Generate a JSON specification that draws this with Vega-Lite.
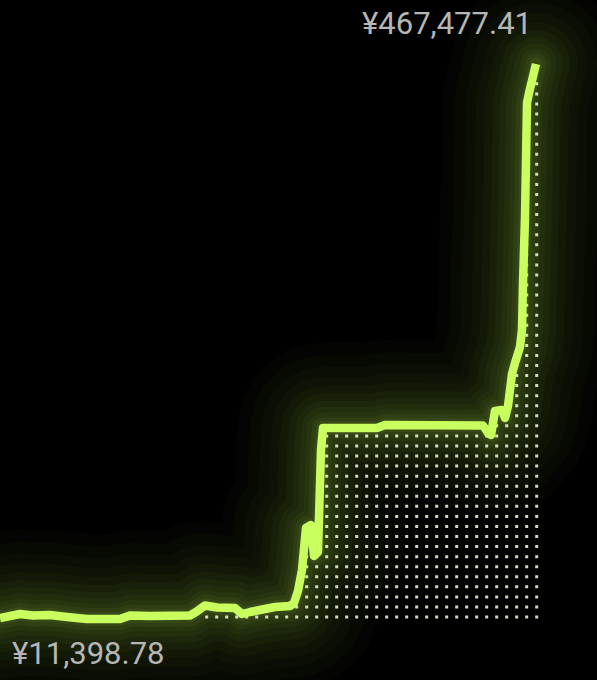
{
  "$schema": "https://vega.github.io/schema/vega-lite/v6.json",
  "background": "#000000",
  "width": 597,
  "height": 680,
  "padding": 0,
  "autosize": {"type": "none"},
  "datasets": {
    "series": [
      {"t": 0, "v": 12221},
      {"t": 20, "v": 15508},
      {"t": 33, "v": 14275},
      {"t": 50, "v": 14686},
      {"t": 67, "v": 13042},
      {"t": 87, "v": 11399},
      {"t": 120, "v": 11399},
      {"t": 130, "v": 14275},
      {"t": 150, "v": 13864},
      {"t": 190, "v": 14275},
      {"t": 196, "v": 17151},
      {"t": 205, "v": 22493},
      {"t": 217, "v": 20849},
      {"t": 235, "v": 20438},
      {"t": 242, "v": 15508},
      {"t": 250, "v": 17151},
      {"t": 260, "v": 18795},
      {"t": 275, "v": 21260},
      {"t": 290, "v": 22082},
      {"t": 294, "v": 24547},
      {"t": 298, "v": 34408},
      {"t": 302, "v": 51665},
      {"t": 306, "v": 86179},
      {"t": 311, "v": 88644},
      {"t": 314, "v": 63170},
      {"t": 318, "v": 66457},
      {"t": 321, "v": 150276},
      {"t": 323, "v": 168355},
      {"t": 377, "v": 168355},
      {"t": 385, "v": 170820},
      {"t": 483, "v": 170409},
      {"t": 488, "v": 164246},
      {"t": 491, "v": 162603},
      {"t": 495, "v": 182325},
      {"t": 502, "v": 183147},
      {"t": 505, "v": 176573},
      {"t": 508, "v": 186434},
      {"t": 512, "v": 212730},
      {"t": 515, "v": 221769},
      {"t": 520, "v": 234917},
      {"t": 522, "v": 248887},
      {"t": 523, "v": 287510},
      {"t": 525, "v": 341746},
      {"t": 527, "v": 435427},
      {"t": 529, "v": 443645},
      {"t": 536, "v": 467477}
    ],
    "dots": [
      {"t": 206.7, "base": 11810, "top": 22082},
      {"t": 216.7, "base": 11810, "top": 21260},
      {"t": 226.7, "base": 11810, "top": 20438},
      {"t": 236.7, "base": 11810, "top": 19616},
      {"t": 246.7, "base": 11810, "top": 16329},
      {"t": 256.7, "base": 11810, "top": 17973},
      {"t": 266.7, "base": 11810, "top": 19616},
      {"t": 276.7, "base": 11810, "top": 21260},
      {"t": 286.7, "base": 11810, "top": 21260},
      {"t": 296.7, "base": 11810, "top": 32765},
      {"t": 306.7, "base": 11810, "top": 87001},
      {"t": 316.7, "base": 11810, "top": 66457},
      {"t": 326.7, "base": 11810, "top": 168355},
      {"t": 336.7, "base": 11810, "top": 168355},
      {"t": 346.7, "base": 11810, "top": 168355},
      {"t": 356.7, "base": 11810, "top": 168355},
      {"t": 366.7, "base": 11810, "top": 168355},
      {"t": 376.7, "base": 11810, "top": 168355},
      {"t": 386.7, "base": 11810, "top": 170820},
      {"t": 396.7, "base": 11810, "top": 170820},
      {"t": 406.7, "base": 11810, "top": 170820},
      {"t": 416.7, "base": 11810, "top": 170820},
      {"t": 426.7, "base": 11810, "top": 170820},
      {"t": 436.7, "base": 11810, "top": 170820},
      {"t": 446.7, "base": 11810, "top": 170820},
      {"t": 456.7, "base": 11810, "top": 170820},
      {"t": 466.7, "base": 11810, "top": 170820},
      {"t": 476.7, "base": 11810, "top": 170820},
      {"t": 486.7, "base": 11810, "top": 165890},
      {"t": 496.7, "base": 11810, "top": 183147},
      {"t": 506.7, "base": 11810, "top": 181503},
      {"t": 516.7, "base": 11810, "top": 225878},
      {"t": 526.7, "base": 11810, "top": 435427},
      {"t": 536.7, "base": 11810, "top": 454328}
    ]
  },
  "layer": [
    {
      "data": {"name": "series"},
      "mark": {"type": "line", "color": "#c8ff5e", "strokeWidth": 170, "opacity": 0.018, "strokeJoin": "round", "strokeCap": "round"},
      "encoding": {
        "x": {"field": "t", "type": "quantitative", "axis": null, "scale": {"domain": [0, 597], "nice": false, "zero": false}},
        "y": {"field": "v", "type": "quantitative", "axis": null, "scale": {"domain": [-38729, 520068], "nice": false, "zero": false}}
      }
    },
    {
      "data": {"name": "series"},
      "mark": {"type": "line", "color": "#c8ff5e", "strokeWidth": 145, "opacity": 0.02, "strokeJoin": "round", "strokeCap": "round"},
      "encoding": {"x": {"field": "t", "type": "quantitative"}, "y": {"field": "v", "type": "quantitative"}}
    },
    {
      "data": {"name": "series"},
      "mark": {"type": "line", "color": "#c8ff5e", "strokeWidth": 122, "opacity": 0.022, "strokeJoin": "round", "strokeCap": "round"},
      "encoding": {"x": {"field": "t", "type": "quantitative"}, "y": {"field": "v", "type": "quantitative"}}
    },
    {
      "data": {"name": "series"},
      "mark": {"type": "line", "color": "#c8ff5e", "strokeWidth": 102, "opacity": 0.025, "strokeJoin": "round", "strokeCap": "round"},
      "encoding": {"x": {"field": "t", "type": "quantitative"}, "y": {"field": "v", "type": "quantitative"}}
    },
    {
      "data": {"name": "series"},
      "mark": {"type": "line", "color": "#c8ff5e", "strokeWidth": 84, "opacity": 0.027, "strokeJoin": "round", "strokeCap": "round"},
      "encoding": {"x": {"field": "t", "type": "quantitative"}, "y": {"field": "v", "type": "quantitative"}}
    },
    {
      "data": {"name": "series"},
      "mark": {"type": "line", "color": "#c8ff5e", "strokeWidth": 68, "opacity": 0.03, "strokeJoin": "round", "strokeCap": "round"},
      "encoding": {"x": {"field": "t", "type": "quantitative"}, "y": {"field": "v", "type": "quantitative"}}
    },
    {
      "data": {"name": "series"},
      "mark": {"type": "line", "color": "#c8ff5e", "strokeWidth": 54, "opacity": 0.032, "strokeJoin": "round", "strokeCap": "round"},
      "encoding": {"x": {"field": "t", "type": "quantitative"}, "y": {"field": "v", "type": "quantitative"}}
    },
    {
      "data": {"name": "series"},
      "mark": {"type": "line", "color": "#c8ff5e", "strokeWidth": 42, "opacity": 0.035, "strokeJoin": "round", "strokeCap": "round"},
      "encoding": {"x": {"field": "t", "type": "quantitative"}, "y": {"field": "v", "type": "quantitative"}}
    },
    {
      "data": {"name": "series"},
      "mark": {"type": "line", "color": "#c8ff5e", "strokeWidth": 31, "opacity": 0.04, "strokeJoin": "round", "strokeCap": "round"},
      "encoding": {"x": {"field": "t", "type": "quantitative"}, "y": {"field": "v", "type": "quantitative"}}
    },
    {
      "data": {"name": "series"},
      "mark": {"type": "line", "color": "#c8ff5e", "strokeWidth": 22, "opacity": 0.045, "strokeJoin": "round", "strokeCap": "round"},
      "encoding": {"x": {"field": "t", "type": "quantitative"}, "y": {"field": "v", "type": "quantitative"}}
    },
    {
      "data": {"name": "series"},
      "mark": {"type": "line", "color": "#c8ff5e", "strokeWidth": 14, "opacity": 0.06, "strokeJoin": "round", "strokeCap": "round"},
      "encoding": {"x": {"field": "t", "type": "quantitative"}, "y": {"field": "v", "type": "quantitative"}}
    },
    {
      "data": {"name": "dots"},
      "mark": {"type": "rule", "color": "#e8f0d2", "strokeWidth": 3, "strokeDash": [3, 7.06], "strokeCap": "butt", "opacity": 0.9},
      "encoding": {
        "x": {"field": "t", "type": "quantitative"},
        "y": {"field": "base", "type": "quantitative"},
        "y2": {"field": "top"}
      }
    },
    {
      "data": {"name": "series"},
      "mark": {"type": "line", "color": "#c8ff5e", "strokeWidth": 8.5, "strokeJoin": "round", "strokeCap": "butt"},
      "encoding": {"x": {"field": "t", "type": "quantitative"}, "y": {"field": "v", "type": "quantitative"}}
    },
    {
      "data": {"values": [{"t": 532, "v": 492128, "label": "¥467,477.41"}]},
      "mark": {"type": "text", "align": "right", "baseline": "alphabetic", "font": "Roboto", "fontSize": 31, "color": "#b6b6b6"},
      "encoding": {
        "x": {"field": "t", "type": "quantitative"},
        "y": {"field": "v", "type": "quantitative"},
        "text": {"field": "label", "type": "nominal"}
      }
    },
    {
      "data": {"values": [{"t": 12, "v": -25580, "label": "¥11,398.78"}]},
      "mark": {"type": "text", "align": "left", "baseline": "alphabetic", "font": "Roboto", "fontSize": 31, "color": "#b6b6b6"},
      "encoding": {
        "x": {"field": "t", "type": "quantitative"},
        "y": {"field": "v", "type": "quantitative"},
        "text": {"field": "label", "type": "nominal"}
      }
    }
  ],
  "config": {
    "view": {"stroke": null}
  }
}
